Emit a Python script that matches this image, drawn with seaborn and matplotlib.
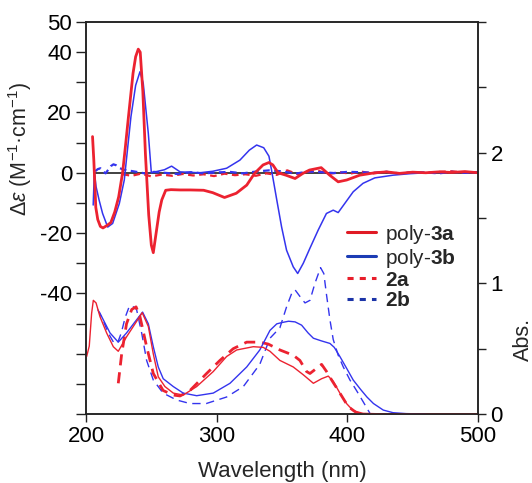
import matplotlib
matplotlib.use("Agg")
import matplotlib.pyplot as plt
from matplotlib.lines import Line2D
from matplotlib.ticker import FixedLocator
import seaborn as sns

# --- CD data (left axis, delta epsilon) ---
cd_3a_wl = [205, 206, 207.5, 209, 211, 213, 216, 219, 222, 225, 228, 230, 232.5, 236, 238, 240, 241.5,
            243.5, 245.5, 248, 250, 251.5, 254, 256, 258, 261, 265, 272, 280, 290, 297, 306, 315,
            323, 329, 335.5, 340, 343, 347, 353, 360, 366, 371, 380, 386.5, 393, 399.5, 409.5,
            421, 430, 440, 450, 460, 470, 480, 490, 500]
cd_3a = [12.0, 4.0, -11.5, -15.5, -17.8, -18.3, -17.5, -16.5, -13.0, -8.0, 0.0, 8.0, 18.6, 33.0, 38.5,
         41.0, 40.0, 27.0, 6.0, -14.0, -24.0, -26.5, -19.0, -13.0, -9.0, -5.8, -5.6, -5.7, -5.7,
         -5.8, -6.6, -8.2, -6.8, -4.1, -0.2, 2.6, 3.4, 2.6, 0.0, -0.8, -1.9, -0.2, 0.9, 1.7, -0.8,
         -3.0, -2.4, -0.8, 0.0, 0.3, -0.2, 0.2, 0.0, 0.3, 0.1, 0.4, 0.0]

cd_3b_wl = [205.5, 206.4, 207.7, 210, 212.7, 216.6, 220.4, 225.5, 229.3, 234.4, 238, 241.3, 243.8,
            247.7, 250, 255, 260, 265.5, 272, 287, 297, 307.6, 317.8, 325, 330.6, 336, 340, 342,
            346, 349.7, 353.5, 358.6, 362, 366.3, 371.4, 377.7, 384, 389.2, 393, 398, 404.5,
            412, 421, 435, 448, 460, 480, 500]
cd_3b = [-10.7, 0.3, -4.6, -9.0, -13.5, -18.0, -16.8, -10.2, -2.4, 18.6, 29.0, 33.5, 29.7, 13.0, 0.0,
         0.5, 1.0, 2.2, 0.3, 0.0, 0.5, 1.5, 4.2, 7.5, 9.2, 8.3, 5.5, 0.9, -9.0, -18.0, -25.7,
         -31.2, -33.4, -30.0, -25.0, -19.0, -13.5, -12.4, -13.2, -10.2, -6.3, -3.5, -1.7, -0.8,
         -0.3, 0.0, 0.2, 0.0]

cd_2a_wl = [228, 235, 242, 250, 258, 266, 274, 282, 290, 298, 306, 314, 322, 330, 338, 346, 354,
            362, 370, 378, 386, 394, 402, 410, 420, 430, 440, 450, 460, 470, 480, 490, 500]
cd_2a = [-0.5, -1.0, -0.3, -1.2, -0.6, -1.0, -0.4, -0.9, -0.5, -1.1, -0.3, -0.8, -0.5, -1.0, -0.2,
         -0.7, 0.8, -0.5, 0.3, 0.6, -0.4, 0.2, -0.3, 0.4, -0.2, 0.3, -0.3, 0.2, -0.1, 0.3, 0.5,
         0.0, 0.2]

cd_2b_wl = [207, 209, 211, 213, 215, 217, 219, 221, 223, 226, 229, 232, 236, 240, 246, 252, 260,
            270, 280, 290, 300, 310, 320, 330, 340, 350, 360, 370, 380, 390, 400, 410, 420, 430,
            440, 450, 460, 470, 480, 490, 500]
cd_2b = [0.5, 1.2, 1.5, 0.5, -0.2, 1.0, 2.2, 2.8, 2.5, 1.5, 1.0, 0.8, 0.5, 0.2, -0.3, 0.3, 0.0,
         -0.4, 0.2, -0.2, 0.1, 0.3, -0.2, 0.4, 0.8, 0.5, -0.3, 0.4, 0.2, -0.1, 0.3, 0.2, 0.0,
         0.3, -0.2, 0.2, 0.1, -0.2, 0.3, 0.0, 0.2]

# --- UV data (right axis, Abs.) ---
uv_3a_wl = [200.5, 202.5, 204.3, 205.6, 207.7, 210.7, 215.8, 220.9, 224.7, 231, 237.5, 243, 247.7,
            251.5, 255.3, 260.4, 266.8, 274.4, 284.7, 297.4, 307.6, 315.3, 328, 335.6, 340.8,
            348.4, 358.6, 366.3, 374, 380.3, 385.4, 389.2, 394.3, 399.4, 404.5, 412, 430, 460, 500]
uv_3a = [0.44, 0.52, 0.77, 0.87, 0.85, 0.745, 0.62, 0.515, 0.48, 0.59, 0.69, 0.775, 0.67, 0.46,
         0.285, 0.21, 0.16, 0.145, 0.21, 0.325, 0.44, 0.49, 0.515, 0.51, 0.48, 0.41, 0.36, 0.30,
         0.235, 0.27, 0.29, 0.25, 0.16, 0.08, 0.025, 0.005, 0.0, 0.0, 0.0]

uv_3b_wl = [210.2, 212, 218.4, 224.7, 231, 237.5, 243.3, 247.7, 251.5, 255.3, 259.1, 266.8, 274.4,
            284.7, 297.4, 310.2, 323, 333, 340.8, 346, 350, 355, 360, 365, 370, 374, 380, 386.7,
            390, 394.3, 400, 404.5, 410, 415, 420, 427.5, 435, 445, 460]
uv_3b = [0.78, 0.745, 0.62, 0.55, 0.62, 0.705, 0.78, 0.69, 0.515, 0.36, 0.27, 0.21, 0.16, 0.14,
         0.16, 0.235, 0.36, 0.49, 0.64, 0.69, 0.70, 0.71, 0.705, 0.68, 0.62, 0.58, 0.56, 0.54,
         0.51, 0.44, 0.34, 0.26, 0.19, 0.13, 0.08, 0.03, 0.01, 0.003, 0.0]

uv_2a_wl = [224.7, 227.3, 231, 235, 238.3, 241.3, 246.4, 251.5, 259, 266.8, 272, 279.6, 292.3,
            302.5, 312.7, 323, 333, 339.5, 348.4, 358.6, 363.7, 368.8, 371.4, 376.5, 380.3,
            384.1, 388, 394.3, 400.7, 407, 410]
uv_2a = [0.235, 0.46, 0.69, 0.80, 0.82, 0.745, 0.515, 0.31, 0.18, 0.145, 0.138, 0.18, 0.31, 0.41,
         0.50, 0.55, 0.55, 0.535, 0.49, 0.45, 0.41, 0.325, 0.31, 0.35, 0.38, 0.325, 0.26, 0.16,
         0.056, 0.01, 0.0]

uv_2b_wl = [209, 213, 217, 221, 224, 227, 230, 233, 235, 238.7, 242.6, 246.4, 251.5, 259, 269.4,
            279.6, 292, 307.6, 320.4, 333, 340.8, 348.4, 353.5, 357.3, 360, 363.7, 367.6, 371.4,
            375.2, 379.5, 382, 384.1, 386.7, 389.2, 393, 396.9, 402, 407, 412.1, 417.3]
uv_2b = [0.80, 0.72, 0.62, 0.55, 0.54, 0.62, 0.74, 0.82, 0.83, 0.80, 0.62, 0.41, 0.26, 0.16, 0.107,
         0.08, 0.08, 0.13, 0.21, 0.38, 0.58, 0.66, 0.82, 0.92, 0.95, 0.90, 0.85, 0.87, 1.0, 1.12,
         1.075, 0.91, 0.72, 0.57, 0.45, 0.36, 0.26, 0.18, 0.094, 0.005]

left_ticks = list(range(-80, 51, 10))
left_labels = {50: "50", 40: "40", 20: "20", 0: "0", -20: "-20", -40: "-40"}
right_ticks = [0, 0.5, 1, 1.5, 2, 2.5, 3]
right_labels = {0: "0", 1: "1", 2: "2"}
x_ticks = [200, 300, 400, 500]

RED = "#ec2230"
BLUE = "#3434ee"

sns.set_style("ticks")
plt.rcParams["font.family"] = ["Liberation Sans", "DejaVu Sans"]
plt.rcParams["mathtext.fontset"] = "custom"
plt.rcParams["mathtext.rm"] = "Liberation Sans"
plt.rcParams["mathtext.it"] = "Liberation Sans:italic"
plt.rcParams["mathtext.bf"] = "Liberation Sans:bold"

fig = plt.figure(figsize=(5.32, 4.83), dpi=100)
ax = fig.add_axes([86 / 532, 1 - 414 / 483, 392 / 532, 392 / 483])
ax2 = ax.twinx()

# CD
ax.hlines(0, 207, 500, color="#333333", lw=1.3, zorder=1)
sns.lineplot(x=cd_2a_wl, y=cd_2a, ax=ax, color=RED, lw=1.6, linestyle=(0, (3, 2)))
sns.lineplot(x=cd_2b_wl, y=cd_2b, ax=ax, color=BLUE, lw=1.6, linestyle=(0, (3, 2)))
sns.lineplot(x=cd_3b_wl, y=cd_3b, ax=ax, color=BLUE, lw=1.1)
sns.lineplot(x=cd_3a_wl, y=cd_3a, ax=ax, color=RED, lw=2.0)

# UV
sns.lineplot(x=uv_2b_wl, y=uv_2b, ax=ax2, color=BLUE, lw=1.0, linestyle=(0, (6, 4)))
sns.lineplot(x=uv_2a_wl, y=uv_2a, ax=ax2, color=RED, lw=2.0, linestyle=(0, (4, 2.5)))
sns.lineplot(x=uv_3b_wl, y=uv_3b, ax=ax2, color=BLUE, lw=1.0)
sns.lineplot(x=uv_3a_wl, y=uv_3a, ax=ax2, color=RED, lw=1.0)

ax.set_xlim(200, 500)
ax.set_ylim(-80, 50)
ax2.set_ylim(0, 3)
ax.set_xticks(x_ticks)
ax.set_xticklabels([str(t) for t in x_ticks])
ax.yaxis.set_major_locator(FixedLocator(left_ticks))
ax.set_yticklabels([left_labels.get(t, "") for t in left_ticks])
ax2.yaxis.set_major_locator(FixedLocator(right_ticks))
ax2.set_yticklabels([right_labels.get(t, "") for t in right_ticks])

for a in (ax, ax2):
    for s in a.spines.values():
        s.set_linewidth(1.1)
        s.set_color("#222222")
    a.tick_params(width=1.0, length=6, labelsize=16, color="#222222", labelcolor="black", pad=3)
ax.tick_params(axis="y", length=7)

ax.set_xlabel("Wavelength (nm)", fontsize=16, labelpad=9.5)
ax.set_ylabel("$\\Delta\\mathit{\\varepsilon}$ (M$^{-1}$·cm$^{-1}$)", fontsize=15.5)
ax.yaxis.set_label_coords(-0.133, 0.676)
ax2.set_ylabel("Abs.", fontsize=15.5)
ax2.yaxis.set_label_coords(1.088, 0.19)

handles = [
    Line2D([], [], color="#e01a24", lw=2.2),
    Line2D([], [], color="#1c3cb4", lw=2.2),
    Line2D([], [], color="#e81e2a", lw=2.2, linestyle=(0, (2, 2))),
    Line2D([], [], color="#1c34a8", lw=2.2, linestyle=(0, (2, 2))),
]
labels = ["poly-$\\mathbf{3a}$", "poly-$\\mathbf{3b}$", "$\\mathbf{2a}$", "$\\mathbf{2b}$"]
ax2.legend(handles, labels, loc="upper left", bbox_to_anchor=(0.666, 0.488), frameon=False,
           fontsize=15, handlelength=1.4, handletextpad=0.4, labelspacing=0.05,
           borderpad=0, borderaxespad=0)

fig.savefig("out.png", dpi=100)
